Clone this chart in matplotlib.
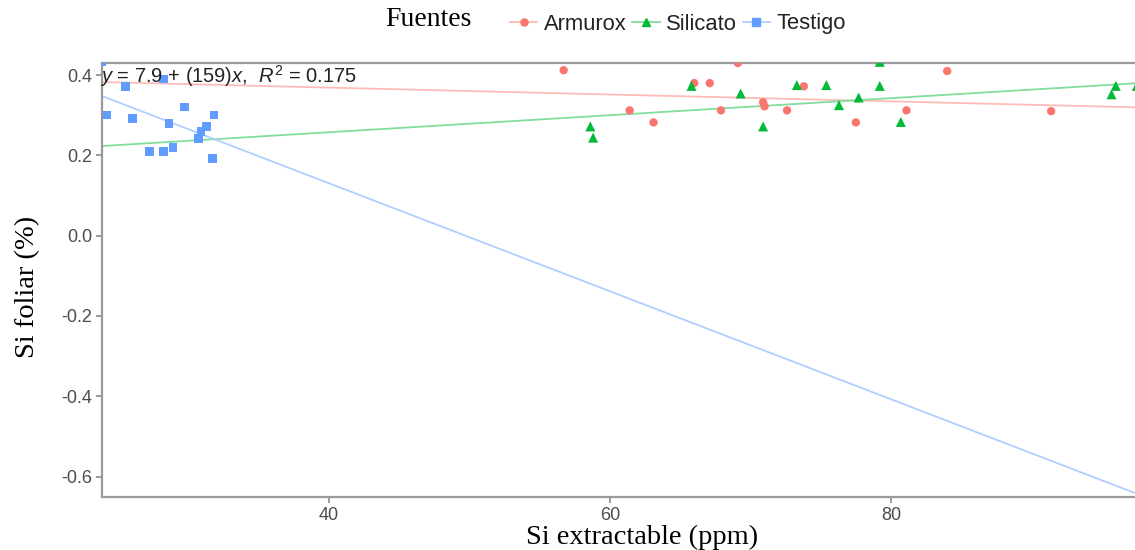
import matplotlib
matplotlib.use("Agg")
import matplotlib.pyplot as plt
import matplotlib.colors as mcolors
import numpy as np
from matplotlib.lines import Line2D

plt.rcParams['font.family'] = ['Liberation Sans', 'DejaVu Sans']
plt.rcParams['axes.unicode_minus'] = False
plt.rcParams['mathtext.fontset'] = 'custom'
plt.rcParams['mathtext.rm'] = 'Liberation Sans'
plt.rcParams['mathtext.it'] = 'Liberation Sans:italic'

# ---- data ----
armurox_x = [56.7, 61.4, 63.1, 66.0, 67.1, 67.9, 69.1, 70.9, 71.0, 72.6, 73.8, 77.5, 81.1, 84.0, 91.4]
armurox_y = [0.412, 0.312, 0.282, 0.380, 0.380, 0.312, 0.430, 0.332, 0.322, 0.312, 0.372, 0.282, 0.312, 0.410, 0.310]

silicato_x = [58.6, 58.8, 65.8, 69.3, 70.9, 73.3, 75.4, 76.3, 77.7, 79.2, 79.2, 80.7, 95.7, 96.0, 97.5]
silicato_y = [0.272, 0.244, 0.373, 0.354, 0.272, 0.375, 0.375, 0.325, 0.344, 0.433, 0.373, 0.283, 0.352, 0.373, 0.373]

testigo_x = [23.8, 25.5, 28.2, 24.2, 26.0, 29.7, 28.6, 31.8, 31.3, 30.9, 30.7, 27.2, 28.2, 28.9, 31.7]
testigo_y = [0.434, 0.372, 0.390, 0.300, 0.292, 0.320, 0.280, 0.300, 0.272, 0.260, 0.242, 0.209, 0.209, 0.220, 0.192]

# fitted lines (intercept, slope)
fit_intercept = [0.4030, 0.1726, 0.6683]
fit_slope = [-0.000857, 0.002123, -0.013448]

series_names = ["Armurox", "Silicato", "Testigo"]
colors = ["#F8766D", "#00BA38", "#619CFF"]
markers = ["o", "^", "s"]
msizes = [6.0, 7.2, 6.2]

x_ticks = [40, 60, 80]
y_ticks = [0.4, 0.2, 0.0, -0.2, -0.4, -0.6]
xlim = (23.84, 97.37)
ylim = (-0.651, 0.430)

equation = r"$y$ = 7.9 + (159)$x$,  $R^2$ = 0.175"


def light(c, a=0.5):
    r = np.array(mcolors.to_rgb(c))
    return tuple(1 - a * (1 - r))


line_colors = [light(c) for c in colors]

# ---- figure ----
W, H = 1135, 550
fig = plt.figure(figsize=(W / 100, H / 100), dpi=100)
ax = fig.add_axes([102 / W, (H - 497) / H, (1135 - 102) / W, (497 - 63) / H])

xs = [armurox_x, silicato_x, testigo_x]
ys = [armurox_y, silicato_y, testigo_y]
xline = np.array(xlim)
for i in range(3):
    ax.plot(xline, fit_intercept[i] + fit_slope[i] * xline, color=line_colors[i],
            lw=1.3, zorder=2)
for i in range(3):
    ax.scatter(xs[i], ys[i], s=msizes[i] ** 2, marker=markers[i], color=colors[i],
               edgecolors='none', zorder=3, clip_on=True)

ax.set_xlim(*xlim)
ax.set_ylim(*ylim)
ax.set_xticks(x_ticks)
ax.set_yticks(y_ticks)
ax.set_yticklabels([f"{v:.1f}" for v in y_ticks])
ax.tick_params(axis='both', colors='#8a8a8a', labelcolor='#4d4d4d', labelsize=13,
               length=4, width=1.2, pad=3)

for s in ['left', 'bottom', 'top']:
    ax.spines[s].set_color('#9a9a9a')
    ax.spines[s].set_linewidth(1.6)
ax.spines['right'].set_visible(False)

ax.text(xlim[0] - 0.15, 0.397, equation, fontsize=14.5, family='Liberation Sans',
        color='#222222', va='center', ha='left', zorder=4)

fig.text((522 + 762) / 2 / W, 1 - 537 / H, "Si extractable (ppm)", family='Liberation Serif',
         fontsize=20.5, ha='center', va='center', color='black')
fig.text(28 / W, 1 - 287 / H, "Si foliar (%)", family='Liberation Serif',
         fontsize=20.5, ha='center', va='center', rotation=90, color='black')

# legend
fig.text(385 / W, 1 - 20 / H, "Fuentes", family='Liberation Serif', fontsize=20,
         ha='left', va='center', color='black')
handles = [Line2D([0], [0], color=line_colors[i], lw=1.3, marker=markers[i],
                  markersize=msizes[i] * 0.85, markerfacecolor=colors[i],
                  markeredgecolor=colors[i]) for i in range(3)]
leg = fig.legend(handles, series_names, loc='center left',
                 bbox_to_anchor=(510 / W, 1 - 24 / H), ncol=3, frameon=False,
                 fontsize=15.8, handlelength=1.25, handletextpad=0.3,
                 columnspacing=0.25, borderaxespad=0, borderpad=0)
for t in leg.get_texts():
    t.set_color('#222222')

fig.savefig("out.png", dpi=100)
